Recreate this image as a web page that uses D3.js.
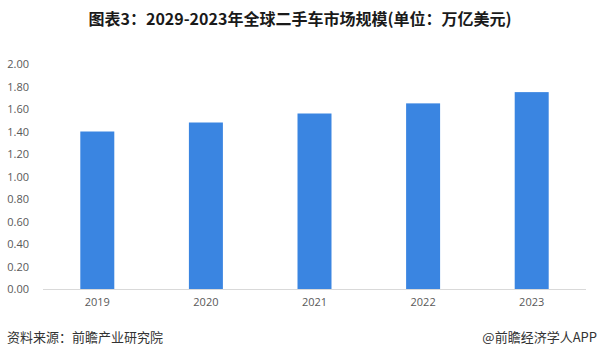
<!DOCTYPE html>
<html>
<head>
<meta charset="utf-8">
<script src="https://cdn.jsdelivr.net/npm/d3@7"></script>
<style>
  html, body { margin: 0; padding: 0; background: #fff; }
  svg { display: block; }
</style>
</head>
<body>
<script>
const years = ["2019", "2020", "2021", "2022", "2023"];
const values = [1.40, 1.48, 1.56, 1.65, 1.75];
const yTicks = [0, 0.2, 0.4, 0.6, 0.8, 1.0, 1.2, 1.4, 1.6, 1.8, 2.0];
const titleText = "图表3：2029-2023年全球二手车市场规模(单位：万亿美元)";
const sourceText = "资料来源：前瞻产业研究院";
const creditText = "@前瞻经济学人APP";

const W = 601, H = 358;
const svg = d3.select("body").append("svg").attr("width", W).attr("height", H);
svg.append("rect").attr("width", W).attr("height", H).attr("fill", "#fff");

const x = d3.scaleBand().domain(years).range([43, 586]).paddingInner(0.687).paddingOuter(0.3435);
const y = d3.scaleLinear().domain([0, 2]).range([289, 64]);

const cjk = "'Noto Sans CJK SC', 'Noto Sans', sans-serif";

// title
svg.append("text")
  .attr("x", 300).attr("y", 25)
  .attr("text-anchor", "middle")
  .attr("font-family", cjk)
  .attr("font-weight", "bold")
  .attr("font-size", 16)
  .attr("fill", "#1a1a1a")
  .text(titleText);

// y axis labels
const yAxis = d3.axisLeft(y).tickValues(yTicks).tickFormat(d3.format(".2f")).tickSize(0).tickPadding(0);
const gy = svg.append("g").attr("transform", "translate(29,0)").call(yAxis);
gy.select(".domain").remove();
gy.selectAll("text").attr("font-family", "'Open Sans', 'Noto Sans', sans-serif").attr("font-size", 11).attr("fill", "#595959");

// bars
svg.append("g").selectAll("rect").data(values).join("rect")
  .attr("x", (d, i) => x(years[i]))
  .attr("width", x.bandwidth())
  .attr("y", d => y(d))
  .attr("height", d => y(0) - y(d))
  .attr("fill", "#3a85e1");

// x axis
const xAxis = d3.axisBottom(x).tickSize(0).tickPadding(9);
const gx = svg.append("g").attr("transform", `translate(0,${y(0)})`).call(xAxis);
gx.select(".domain").attr("stroke", "#d9d9d9").attr("d", `M43,0.5H586`);
gx.selectAll("text").attr("font-family", "'Open Sans', 'Noto Sans', sans-serif").attr("font-size", 11).attr("fill", "#595959");

// footer
svg.append("text").attr("x", 7).attr("y", 342)
  .attr("font-family", cjk).attr("font-size", 13).attr("fill", "#333")
  .text(sourceText);
svg.append("text").attr("x", 597).attr("y", 342).attr("text-anchor", "end")
  .attr("font-family", cjk).attr("font-size", 13).attr("fill", "#333")
  .text(creditText);
</script>
</body>
</html>
